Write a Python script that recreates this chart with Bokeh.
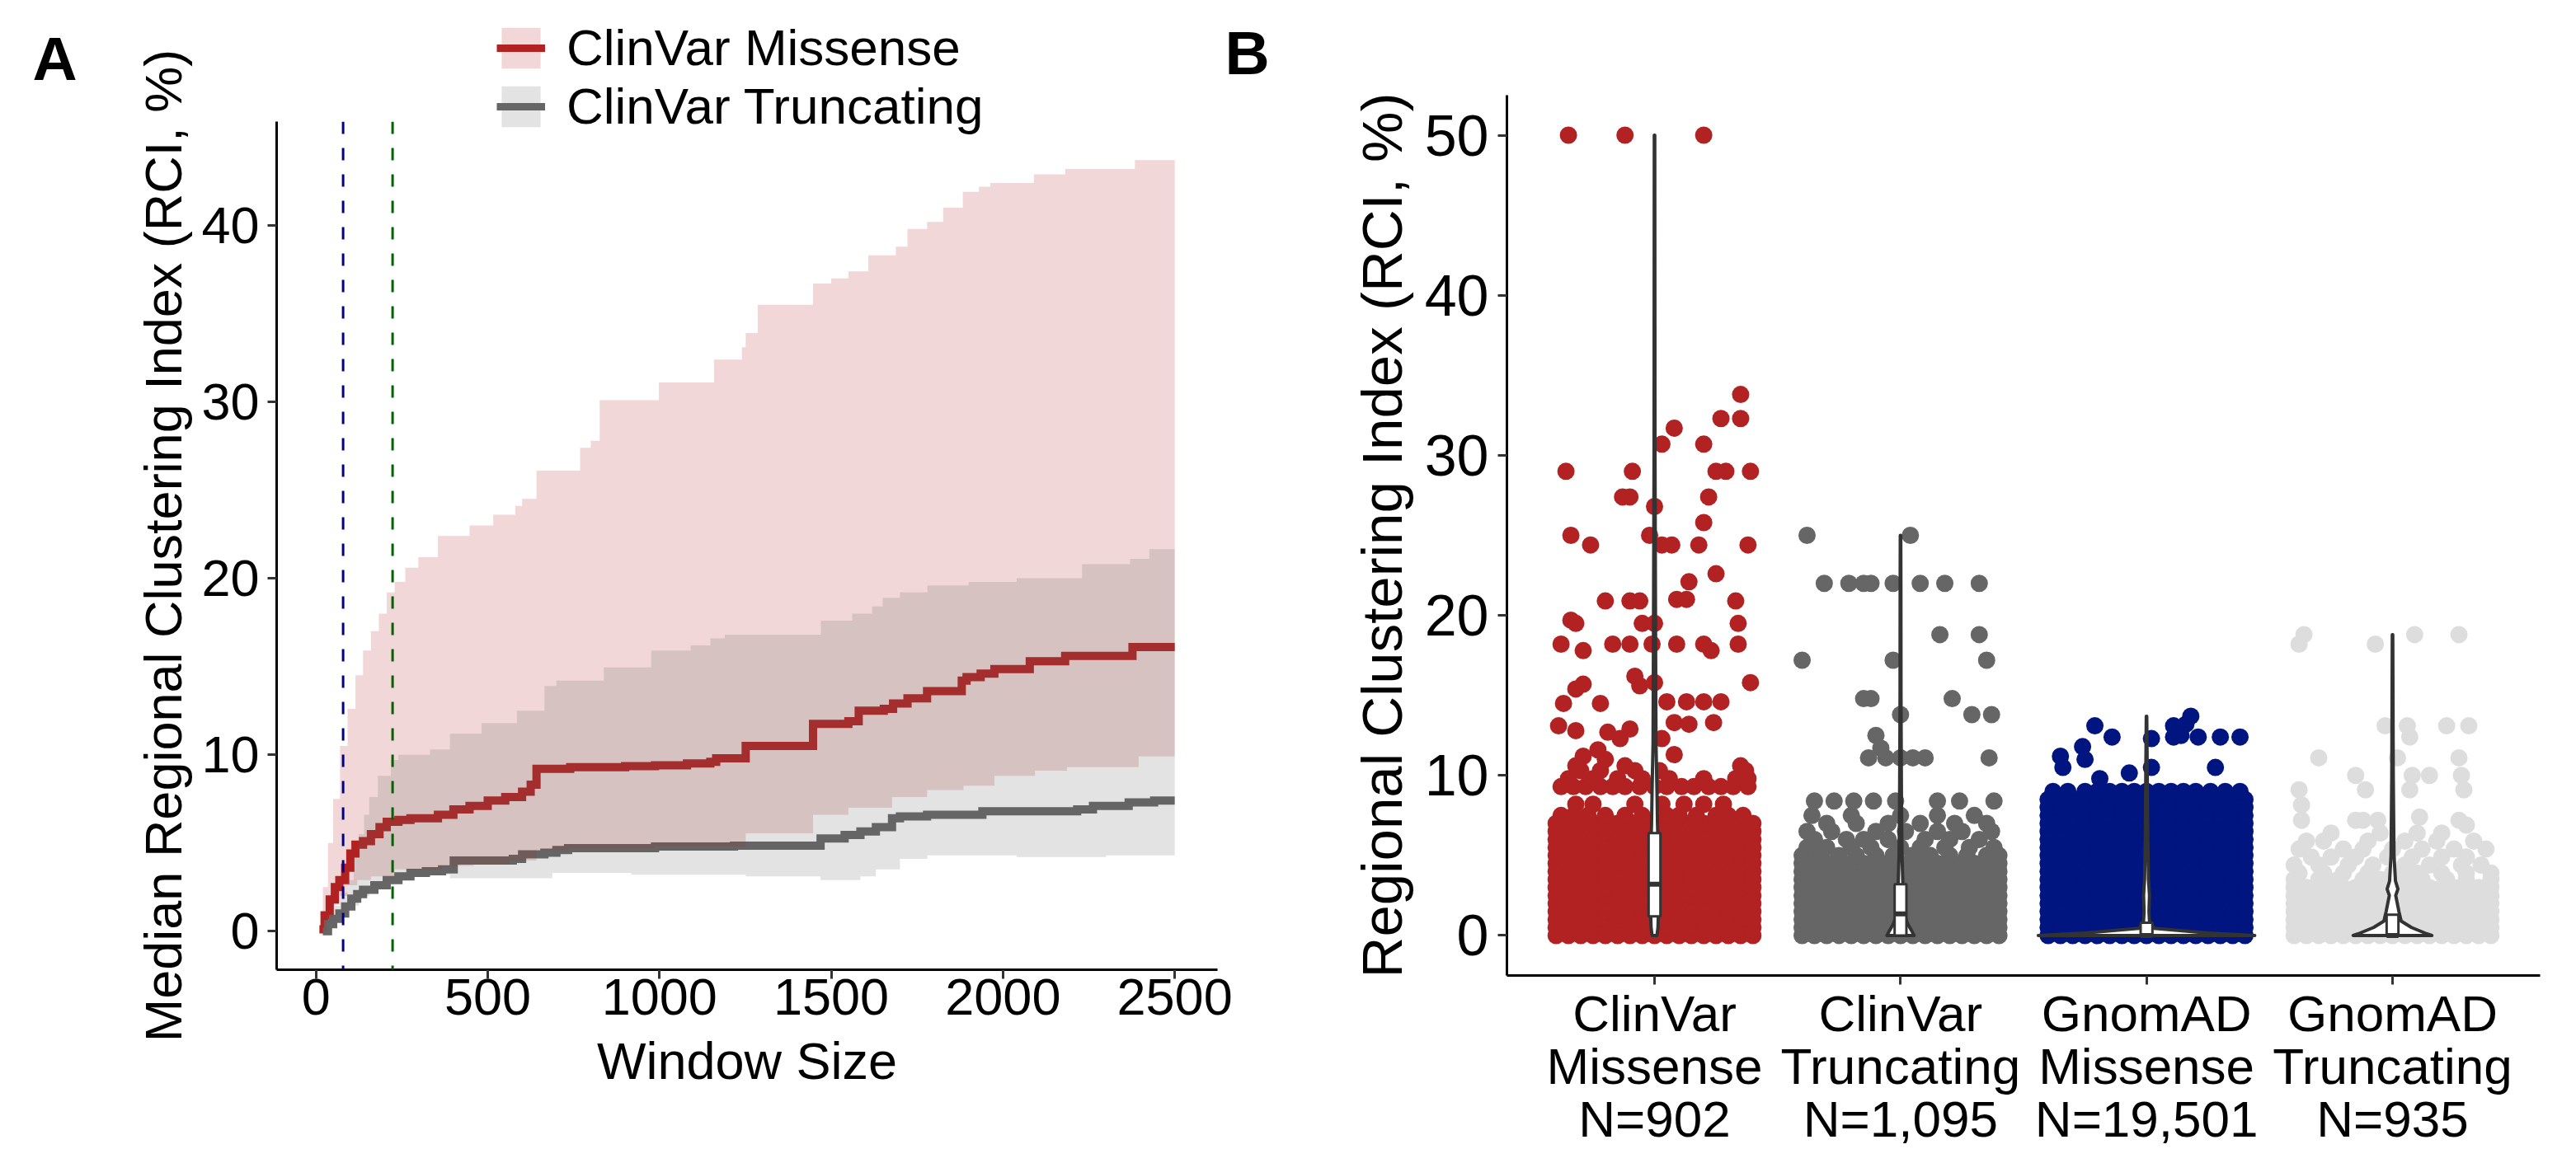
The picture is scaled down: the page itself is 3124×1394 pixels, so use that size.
from bokeh.plotting import figure
from bokeh.models import Span, Legend, LegendItem, Label, FixedTicker, Range1d
from bokeh.embed import file_html
from bokeh.resources import INLINE

FONT = "Liberation Sans"

# ---------------- Panel A data (window size vs median RCI, step curves) ----------------
mis_med_x = [10, 25, 40, 55, 68, 85, 100, 115, 137, 160, 185, 206, 240, 275, 355, 400, 447, 500, 551, 600, 625,
             642, 740, 900, 987, 1080, 1148, 1165, 1251, 1447, 1550, 1580, 1653, 1680, 1722, 1779, 1880, 1894,
             1935, 1975, 2078, 2181, 2377, 2500]
mis_med_y = [0.1, 0.9, 1.8, 2.5, 2.9, 3.6, 4.4, 4.9, 5.1, 5.5, 5.9, 6.2, 6.3, 6.4, 6.6, 6.9, 7.1, 7.4, 7.6, 7.9, 8.3,
             9.2, 9.3, 9.35, 9.4, 9.5, 9.6, 9.8, 10.5, 11.75, 11.9, 12.5, 12.6, 12.9, 13.2, 13.6, 14.2, 14.4,
             14.6, 14.85, 15.3, 15.6, 16.1, 16.1]
mis_up_x = [10, 20, 35, 50, 70, 92, 115, 137, 160, 183, 206, 229, 260, 298, 355, 447, 516, 580, 600, 642, 769, 800,
            826, 998, 1159, 1240, 1251, 1286, 1447, 1500, 1550, 1608, 1688, 1722, 1779, 1826, 1883, 1930, 1963,
            2090, 2181, 2384, 2500]
mis_up_y = [0, 2.5, 5, 7.5, 10.5, 12.6, 14.5, 15.9, 17, 18, 19.2, 19.8, 20.6, 21.2, 22.4, 23.0, 23.6, 24.1, 24.5,
            26.1, 27.4, 27.8, 30.1, 31.1, 32.4, 33.1, 33.9, 35.5, 36.7, 37.0, 37.4, 38.3, 38.8, 39.8, 40.2, 41.0,
            41.9, 42.2, 42.4, 42.9, 43.2, 43.7, 43.7]
mis_lo_x = [10, 30, 50, 70, 92, 120, 160, 229, 367, 459, 562, 642, 734, 987, 1251, 1447, 1550, 1677, 1779, 1885,
            1975, 2093, 2186, 2395, 2500]
mis_lo_y = [0, 0.8, 1.5, 2.0, 2.6, 2.9, 3.1, 3.5, 3.7, 3.8, 4.0, 4.6, 4.7, 4.8, 5.55, 6.6, 7.0, 7.6, 8.0, 8.25,
            8.8, 9.1, 9.3, 9.9, 9.9]

tru_med_x = [20, 35, 50, 68, 85, 103, 120, 137, 170, 206, 240, 275, 320, 367, 401, 573, 600, 665, 700, 734, 987,
             1217, 1469, 1539, 1585, 1630, 1677, 1700, 1779, 1940, 2216, 2262, 2366, 2440, 2500]
tru_med_y = [0.0, 0.4, 0.7, 1.0, 1.4, 1.85, 2.1, 2.35, 2.6, 2.9, 3.1, 3.3, 3.4, 3.5, 4.0, 4.1, 4.35, 4.45, 4.6,
             4.7, 4.8, 4.85, 5.25, 5.45, 5.65, 5.9, 6.4, 6.5, 6.6, 6.8, 6.9, 7.1, 7.3, 7.4, 7.4]
tru_up_x = [20, 30, 50, 70, 92, 110, 124, 140, 155, 180, 218, 240, 332, 390, 482, 585, 665, 700, 838, 976, 1091,
            1148, 1190, 1470, 1561, 1619, 1650, 1700, 1780, 1900, 2040, 2230, 2370, 2426, 2500]
tru_up_y = [0, 0.8, 1.45, 2.2, 2.9, 4.2, 5.5, 6.6, 7.6, 8.8, 9.7, 10.0, 10.3, 11.2, 11.8, 12.5, 13.9, 14.2, 14.95,
            15.9, 16.2, 16.6, 16.8, 17.6, 18.0, 18.4, 18.9, 19.2, 19.6, 19.8, 20.0, 20.8, 21.1, 21.65, 21.65]
tru_lo_x = [20, 40, 70, 92, 125, 155, 190, 229, 320, 390, 573, 688, 918, 1251, 1469, 1585, 1630, 1700, 1780, 2040,
            2300, 2500]
tru_lo_y = [0, 0.6, 1.0, 1.45, 2.0, 2.5, 2.8, 3.1, 3.2, 3.0, 3.0, 3.3, 3.2, 3.1, 2.9, 3.1, 3.5, 4.1, 4.3, 4.2,
            4.3, 4.3]

vline_blue = 79
vline_green = 223
a_xticks = [0, 500, 1000, 1500, 2000, 2500]
a_yticks = [0, 10, 20, 30, 40]
series_labels = ["ClinVar Missense", "ClinVar Truncating"]
series_colors = ["#B22222", "#666666"]

# ---------------- Panel B data (jittered RCI per group) ----------------
categories = ["ClinVar\nMissense\nN=902", "ClinVar\nTruncating\nN=1,095",
              "GnomAD\nMissense\nN=19,501", "GnomAD\nTruncating\nN=935"]
colors_b = ["#B22222", "#666666", "#001580", "#DDDDDD"]
b_yticks = [0, 10, 20, 30, 40, 50]

jitter_offsets = [-0.40, -0.35, -0.30, -0.25, -0.20, -0.15, -0.10, -0.05, 0.00,
                  0.05, 0.10, 0.15, 0.20, 0.25, 0.30, 0.35, 0.40]

cm_dense_levels = [0, 0.5, 1, 1.5, 2, 2.5, 3, 3.5, 4, 4.5, 5, 5.5, 6, 6.5, 7]
ct_dense_levels = [0, 0.5, 1, 1.5, 2, 2.5, 3, 3.5, 4, 4.5]
gm_dense_levels = [0, 0.5, 1, 1.5, 2, 2.5, 3, 3.5, 4, 4.5, 5, 5.5, 6, 6.5, 7, 7.5, 8, 8.5]
gt_dense_levels = [0, 0.5, 1, 1.5, 2, 2.5, 3]

cm_rows = {
    7.5: [-0.38, -0.33, -0.27, -0.2, -0.12, -0.05, 0.05, 0.1, 0.17, 0.25, 0.3, 0.36],
    8.2: [-0.32, -0.25, -0.08, 0.03, 0.12, 0.2, 0.28],
    9.3: [-0.38, -0.33, -0.28, -0.22, -0.17, -0.12, -0.06, 0.0, 0.05, 0.11, 0.16, 0.22, 0.27, 0.32, 0.38],
    9.8: [-0.35, -0.25, -0.15, -0.05, 0.06, 0.20, 0.33, 0.38],
    10.3: [-0.30, -0.22, -0.08, 0.02, 0.37],
}
cm_sparse = [(-0.35, 50), (-0.12, 50), (0.20, 50),
             (0.35, 33.8), (0.27, 32.3), (0.35, 32.3), (0.08, 31.7), (0.03, 30.7), (0.20, 30.7),
             (-0.36, 29), (-0.09, 29), (0.25, 29), (0.29, 29), (0.39, 29),
             (-0.13, 27.4), (-0.10, 27.4), (0.22, 27.4), (0.00, 26.8), (0.20, 25.8),
             (-0.34, 25), (-0.02, 25), (-0.26, 24.4), (0.03, 24.4), (0.07, 24.4), (0.18, 24.4), (0.38, 24.4),
             (0.25, 22.6), (0.14, 22.1),
             (-0.20, 20.9), (-0.10, 20.9), (-0.06, 20.9), (0.09, 21.0), (0.13, 21.0), (0.33, 20.9),
             (-0.34, 19.7), (-0.32, 19.5), (-0.05, 19.5), (0.00, 19.5), (0.34, 19.5),
             (-0.38, 18.2), (-0.29, 17.8), (-0.17, 18.2), (-0.10, 18.2), (-0.01, 18.2), (0.09, 18.2),
             (0.20, 18.2), (0.23, 17.8), (0.34, 18.2),
             (-0.08, 16.2), (-0.06, 15.6), (0.00, 15.8), (-0.29, 15.7), (-0.32, 15.4), (0.39, 15.8),
             (-0.37, 14.5), (-0.22, 14.5), (0.05, 14.6), (0.13, 14.6), (0.20, 14.6), (0.27, 14.6),
             (-0.39, 13.1), (-0.32, 12.8), (-0.19, 12.7), (-0.10, 12.9), (0.08, 13.3), (0.14, 13.2), (0.24, 13.3),
             (0.03, 12.3), (-0.23, 11.6), (-0.14, 12.3), (-0.29, 11.2), (-0.32, 10.6), (-0.20, 11.0),
             (-0.12, 10.6), (0.08, 11.3), (0.35, 10.6)]

ct_rows = {
    5.0: [-0.4, -0.33, -0.25, -0.18, -0.1, -0.03, 0.05, 0.12, 0.2, 0.27, 0.35, 0.4],
    5.5: [-0.38, -0.3, -0.2, -0.12, 0.0, 0.08, 0.18, 0.28, 0.38],
    6.0: [-0.35, -0.22, -0.15, -0.05, 0.1, 0.2, 0.32],
    6.5: [-0.38, -0.28, -0.1, 0.02, 0.15, 0.25, 0.37],
    7.0: [-0.3, -0.18, -0.05, 0.08, 0.22, 0.35],
    7.5: [-0.36, -0.2, 0.0, 0.15, 0.3],
    8.4: [-0.35, -0.27, -0.19, -0.11, -0.02, 0.15, 0.24, 0.38],
    11.1: [-0.13, -0.06, 0.0, 0.05, 0.10, 0.36],
    22.0: [-0.31, -0.21, -0.15, -0.12, -0.03, 0.08, 0.18, 0.32],
}
ct_sparse = [(-0.38, 25), (0.04, 25), (0.16, 18.8), (0.32, 18.8), (-0.40, 17.2), (-0.03, 17.2), (0.35, 17.2),
             (-0.15, 14.8), (-0.12, 14.8), (0.21, 14.8), (0.00, 13.8), (0.29, 13.8), (0.37, 13.8),
             (-0.10, 12.5), (-0.08, 11.7)]

gm_rows = {
    9.0: [-0.38, -0.32, -0.25, -0.2, -0.15, -0.1, -0.05, 0.0, 0.05, 0.1, 0.15, 0.2, 0.26, 0.32, 0.38],
}
gm_sparse = [(0.18, 13.7), (0.11, 13.1), (0.16, 13.2), (-0.21, 13.1), (0.11, 12.4), (0.14, 12.5), (0.21, 12.4),
             (0.30, 12.4), (0.38, 12.4), (-0.14, 12.4), (0.02, 12.3), (-0.26, 11.8), (-0.35, 11.2),
             (-0.34, 10.5), (-0.25, 11.0), (-0.07, 10.15), (0.02, 10.5), (0.28, 10.5), (-0.19, 9.8)]

gt_rows = {
    3.5: [-0.4, -0.3, -0.22, -0.12, -0.05, 0.05, 0.12, 0.22, 0.3, 0.4],
    3.9: [-0.38, -0.28, -0.2, -0.1, 0.0, 0.1, 0.2, 0.3, 0.4],
    4.4: [-0.4, -0.3, -0.18, -0.08, 0.05, 0.15, 0.28, 0.36],
    4.9: [-0.33, -0.25, -0.15, -0.02, 0.08, 0.2, 0.3],
    5.4: [-0.38, -0.2, -0.12, 0.0, 0.12, 0.25, 0.38],
    5.9: [-0.35, -0.28, -0.1, 0.05, 0.18, 0.33],
    6.4: [-0.25, -0.05, 0.1, 0.2],
}
gt_sparse = [(-0.36, 18.8), (-0.38, 18.2), (-0.07, 18.2), (0.09, 18.8), (0.27, 18.8), (-0.03, 13.1), (0.06, 13.1),
             (0.22, 13.1), (0.31, 13.1), (0.07, 12.4), (-0.30, 11.1), (0.02, 11.1), (0.27, 11.1), (-0.15, 10.0),
             (0.08, 10.0), (0.15, 10.0), (0.28, 10.0), (-0.38, 9.1), (-0.11, 9.1), (0.07, 9.1), (0.29, 9.1),
             (-0.37, 8.15), (-0.37, 7.2), (-0.15, 7.2), (-0.12, 7.2), (-0.06, 7.2), (0.11, 7.4), (0.27, 7.2),
             (0.30, 6.9)]

# violin outlines (value, half-width) and box stats (q1, median, q3)
cm_vio_y = [0, 0.5, 1.5, 3, 5, 7, 9, 12, 20, 30, 50]
cm_vio_hw = [0.010, 0.014, 0.016, 0.018, 0.016, 0.012, 0.010, 0.006, 0.004, 0.002, 0.001]
ct_vio_y = [0, 0.3, 0.7, 1.2, 2, 3.5, 5, 8, 11, 15, 22, 25]
ct_vio_hw = [0.055, 0.045, 0.03, 0.018, 0.012, 0.009, 0.006, 0.004, 0.003, 0.002, 0.0015, 0.001]
gm_vio_y = [0, 0.15, 0.45, 0.9, 1.5, 2.5, 3.5, 6, 10, 13.7]
gm_vio_hw = [0.44, 0.25, 0.03, 0.012, 0.01, 0.012, 0.008, 0.005, 0.003, 0.001]
gt_vio_y = [0, 0.1, 0.5, 0.9, 1.5, 2.5, 2.9, 3.4, 5, 10, 18.8]
gt_vio_hw = [0.16, 0.14, 0.077, 0.035, 0.026, 0.013, 0.022, 0.012, 0.006, 0.003, 0.001]
box_q1 = [1.2, 0.0, 0.0, 0.0]
box_med = [3.2, 1.35, 0.0, 0.0]
box_q3 = [6.4, 3.2, 0.8, 1.3]


# ---------------- helpers ----------------
def place(left, top):
    return {"position": "absolute", "left": f"{left}px", "top": f"{top}px"}


def step_xy(xs, ys):
    px, py = [], []
    for i in range(len(xs)):
        if i:
            px.append(xs[i]); py.append(ys[i - 1])
        px.append(xs[i]); py.append(ys[i])
    return px, py


def ribbon(ux, uy, lx, ly):
    a, b = step_xy(ux, uy)
    c, d = step_xy(lx, ly)
    return a + c[::-1], b + d[::-1]


def style_axes(p, tick_px, title_px):
    p.outline_line_color = None
    p.xgrid.visible = False
    p.ygrid.visible = False
    p.background_fill_color = "white"
    p.border_fill_color = "white"
    for ax in (p.xaxis[0], p.yaxis[0]):
        ax.axis_line_color = "black"
        ax.axis_line_width = 3
        ax.major_tick_line_color = "#333333"
        ax.major_tick_line_width = 3
        ax.major_tick_out = 11
        ax.major_tick_in = 0
        ax.minor_tick_line_color = None
        ax.major_label_text_font = FONT
        ax.major_label_text_color = "black"
        ax.axis_label_text_font = FONT
        ax.axis_label_text_font_style = "normal"
        ax.axis_label_text_color = "black"
    p.xaxis.major_label_text_font_size = tick_px
    p.yaxis.major_label_text_font_size = tick_px
    p.xaxis.axis_label_text_font_size = title_px
    p.yaxis.axis_label_text_font_size = title_px


# ---------------- Panel A ----------------
pa = figure(width=1540, height=1378, x_range=Range1d(-114.5, 2624.5), y_range=Range1d(-2.185, 45.885),
            output_backend="svg", toolbar_location=None,
            min_border_left=327, min_border_right=72, min_border_top=139, min_border_bottom=210,
            styles=place(8, 8))
style_axes(pa, "63px", "63px")
pa.xaxis.ticker = FixedTicker(ticks=a_xticks)
pa.yaxis.ticker = FixedTicker(ticks=a_yticks)
pa.xaxis.axis_label = "Window Size"
pa.yaxis.axis_label = "Median Regional Clustering Index (RCI, %)"
pa.xaxis.major_label_standoff = 0
pa.yaxis.major_label_standoff = 10
pa.xaxis.axis_label_standoff = 18
pa.yaxis.axis_label_standoff = 8

mx, my = step_xy(mis_med_x, mis_med_y)
tx, ty = step_xy(tru_med_x, tru_med_y)
pa.line(mx, my, line_color=series_colors[0], line_width=10, line_join="miter")
pa.line(tx, ty, line_color=series_colors[1], line_width=10, line_join="miter")
rx, ry = ribbon(mis_up_x, mis_up_y, mis_lo_x, mis_lo_y)
gx, gy = ribbon(tru_up_x, tru_up_y, tru_lo_x, tru_lo_y)
pa.patch(rx, ry, fill_color=series_colors[0], fill_alpha=0.18, line_color=None)
pa.patch(gx, gy, fill_color=series_colors[1], fill_alpha=0.18, line_color=None)

pa.add_layout(Span(location=vline_blue, dimension="height", line_color="#00008B", line_width=3, line_dash="15 17"))
pa.add_layout(Span(location=vline_green, dimension="height", line_color="#006400", line_width=3, line_dash="15 17"))

# ---------------- Top band: panel letters and legend of panel A ----------------
band = figure(width=1520, height=160, x_axis_type=None, y_axis_type=None, output_backend="svg",
              toolbar_location=None, min_border=0, x_range=Range1d(0, 1), y_range=Range1d(0, 1),
              styles=place(30, 20))
band.outline_line_color = None
band.background_fill_alpha = 0
band.border_fill_alpha = 0
items = []
for lab, col in zip(series_labels, series_colors):
    # key glyphs only: the geometry lies outside the band's visible range
    r1 = band.patch([2, 3, 3], [2, 2, 3], fill_color=col, fill_alpha=0.18, line_color=None)
    r2 = band.line([2, 3], [2, 2], line_color=col, line_width=9)
    items.append(LegendItem(label=lab, renderers=[r1, r2]))
legend = Legend(items=items, location=(572, 16), padding=0, margin=0, spacing=-4,
                glyph_width=59, glyph_height=62, label_standoff=26,
                label_text_font=FONT, label_text_font_size="62px", label_text_color="black",
                background_fill_alpha=0, border_line_color=None)
band.add_layout(legend)
band.add_layout(Label(x=9, y=110, x_units="screen", y_units="screen", text="A", text_font=FONT,
                      text_font_style="bold", text_font_size="75px", text_color="black",
                      text_baseline="alphabetic"))
band.add_layout(Label(x=1455, y=117, x_units="screen", y_units="screen", text="B", text_font=FONT,
                      text_font_style="bold", text_font_size="75px", text_color="black",
                      text_baseline="alphabetic"))

# ---------------- Panel B ----------------
pb = figure(width=1568, height=1386, x_range=Range1d(0.4, 4.6), y_range=Range1d(-2.5, 52.5),
            output_backend="svg", toolbar_location=None,
            min_border_left=279, min_border_right=36, min_border_top=107, min_border_bottom=211,
            styles=place(1548, 8))
style_axes(pb, "62px", "69px")
pb.yaxis.major_label_text_font_size = "70px"
pb.xaxis.ticker = FixedTicker(ticks=[1, 2, 3, 4])
pb.yaxis.ticker = FixedTicker(ticks=b_yticks)
pb.xaxis.major_label_overrides = {i + 1: c for i, c in enumerate(categories)}
pb.xaxis.major_label_text_line_height = 0.93
pb.xaxis.major_label_standoff = 0
pb.yaxis.major_label_standoff = 11
pb.yaxis.axis_label = "Regional Clustering Index (RCI, %)"
pb.yaxis.axis_label_standoff = 10

groups = [
    (cm_dense_levels, cm_rows, cm_sparse),
    (ct_dense_levels, ct_rows, ct_sparse),
    (gm_dense_levels, gm_rows, gm_sparse),
    (gt_dense_levels, gt_rows, gt_sparse),
]
for k, (levels, rows_, sparse) in enumerate(groups):
    c = k + 1
    xs, ys = [], []
    for lv in levels:
        for o in jitter_offsets:
            xs.append(c + o); ys.append(lv)
    for lv, offs in rows_.items():
        for o in offs:
            xs.append(c + o); ys.append(lv)
    for o, v in sparse:
        xs.append(c + o); ys.append(v)
    pb.scatter(xs, ys, size=21, fill_color=colors_b[k], line_color=None)

violins = [(cm_vio_y, cm_vio_hw), (ct_vio_y, ct_vio_hw), (gm_vio_y, gm_vio_hw), (gt_vio_y, gt_vio_hw)]
for k, (vy, hw) in enumerate(violins):
    c = k + 1
    px = [c + h for h in hw] + [c - h for h in hw[::-1]]
    py = list(vy) + list(vy[::-1])
    pb.patch(px, py, fill_color="white", line_color="#333333", line_width=4, line_join="round")

bw = 0.024
cats = [1, 2, 3, 4]
pb.quad(left=[c - bw for c in cats], right=[c + bw for c in cats], bottom=box_q1, top=box_q3,
        fill_color="white", line_color="#333333", line_width=3)
pb.segment(x0=[c - bw for c in cats], x1=[c + bw for c in cats], y0=box_med, y1=box_med,
           line_color="#333333", line_width=6)

open("out.html", "w").write(file_html([pa, pb, band], INLINE))
